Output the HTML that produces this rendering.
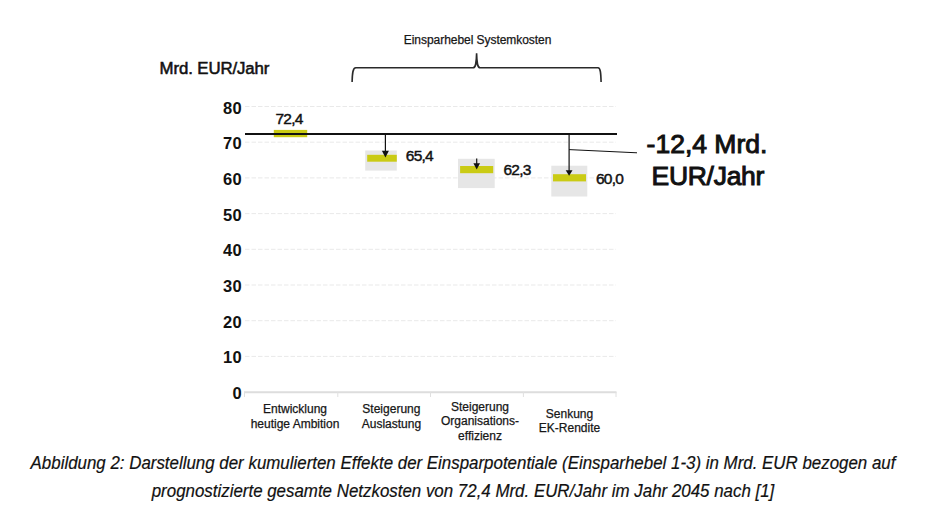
<!DOCTYPE html>
<html>
<head>
<meta charset="utf-8">
<style>
html,body{margin:0;padding:0;background:#fff;}
body{width:946px;height:521px;position:relative;overflow:hidden;font-family:"Liberation Sans",sans-serif;color:#111;}
svg{position:absolute;left:0;top:0;}
.t{position:absolute;white-space:nowrap;line-height:1;}
.yl{position:absolute;font-weight:bold;font-size:16.5px;line-height:16.5px;width:40px;left:202.2px;text-align:right;letter-spacing:0.4px;}
.cat{position:absolute;font-size:12px;line-height:14.5px;width:120px;text-align:center;-webkit-text-stroke:0.25px #222;}
.dl{position:absolute;font-size:15.5px;line-height:15.5px;letter-spacing:-0.75px;-webkit-text-stroke:0.45px #111;}
.cap{position:absolute;font-style:italic;font-size:18px;line-height:18px;width:1000px;left:-37.2px;text-align:center;transform:scaleX(0.9385);transform-origin:500px 0;-webkit-text-stroke:0.2px #111;}
</style>
</head>
<body>
<svg width="946" height="521" viewBox="0 0 946 521">
  <!-- gridlines -->
  <g stroke="#e9e9e9" stroke-width="1" stroke-dasharray="4.5,2">
    <line x1="245" y1="106.5" x2="616" y2="106.5"/>
    <line x1="245" y1="142.2" x2="616" y2="142.2"/>
    <line x1="245" y1="177.9" x2="616" y2="177.9"/>
    <line x1="245" y1="213.6" x2="616" y2="213.6"/>
    <line x1="245" y1="249.3" x2="616" y2="249.3"/>
    <line x1="245" y1="285.0" x2="616" y2="285.0"/>
    <line x1="245" y1="320.7" x2="616" y2="320.7"/>
    <line x1="245" y1="356.4" x2="616" y2="356.4"/>
  </g>
  <!-- axis -->
  <line x1="244" y1="392.2" x2="616.5" y2="392.2" stroke="#dddddd" stroke-width="2"/>
  <g stroke="#e0e0e0" stroke-width="1">
    <line x1="244.5" y1="392" x2="244.5" y2="397"/>
    <line x1="337.8" y1="392" x2="337.8" y2="397"/>
    <line x1="430.5" y1="392" x2="430.5" y2="397"/>
    <line x1="523.4" y1="392" x2="523.4" y2="397"/>
    <line x1="616" y1="392" x2="616" y2="397"/>
  </g>
  <!-- bars -->
  <rect x="273.8" y="129.9" width="33.4" height="7.3" fill="#cacb14"/>
  <rect x="365.2" y="150.5" width="31.6" height="20.1" fill="#e6e6e6"/>
  <rect x="367.2" y="154.8" width="29.6" height="6.9" fill="#cacb14"/>
  <rect x="458" y="158.8" width="36.7" height="29.3" fill="#e6e6e6"/>
  <rect x="460.1" y="166" width="33.1" height="7.2" fill="#cacb14"/>
  <rect x="551.3" y="165.7" width="36" height="30.8" fill="#e6e6e6"/>
  <rect x="553" y="174.2" width="33" height="7.2" fill="#cacb14"/>
  <!-- black reference line -->
  <line x1="245" y1="134.1" x2="617" y2="134.1" stroke="#111" stroke-width="2"/>
  <!-- arrows -->
  <g stroke="#111" stroke-width="1.2">
    <line x1="385.4" y1="134" x2="385.4" y2="152"/>
    <line x1="476.7" y1="158.5" x2="476.7" y2="165"/>
    <line x1="569.1" y1="134" x2="569.1" y2="171"/>
    <line x1="569.1" y1="149.6" x2="637" y2="152.8" stroke-width="1"/>
  </g>
  <g fill="#111">
    <polygon points="381.9,150.8 388.9,150.8 385.4,157.6"/>
    <polygon points="473.4,163.2 480,163.2 476.7,169.6"/>
    <polygon points="565.7,170.2 572.5,170.2 569.1,175.8"/>
  </g>
  <!-- brace -->
  <path d="M352.1,82.1 C352.3,73 352.9,67.7 355.8,67.7 L473,67.7 C475.6,67.7 476.3,64.5 476.6,53.2 C476.9,64.5 477.6,67.7 480.2,67.7 L598,67.7 C600.4,67.7 600.9,73 601.1,82.1" fill="none" stroke="#2a2a2a" stroke-width="1.6"/>
</svg>

<div class="t" style="left:403.8px;top:34px;font-size:12px;letter-spacing:-0.05px;-webkit-text-stroke:0.25px #222;">Einsparhebel Systemkosten</div>
<div class="t" style="left:159.6px;top:60.8px;font-size:16.8px;letter-spacing:-0.1px;-webkit-text-stroke:0.55px #111;">Mrd. EUR/Jahr</div>

<div class="yl" style="top:99.5px;">80</div>
<div class="yl" style="top:135.2px;">70</div>
<div class="yl" style="top:170.9px;">60</div>
<div class="yl" style="top:206.6px;">50</div>
<div class="yl" style="top:242.3px;">40</div>
<div class="yl" style="top:278.0px;">30</div>
<div class="yl" style="top:313.7px;">20</div>
<div class="yl" style="top:349.4px;">10</div>
<div class="yl" style="top:385.1px;">0</div>

<div class="dl" style="left:275.5px;top:110.8px;">72,4</div>
<div class="dl" style="left:405.8px;top:147.9px;">65,4</div>
<div class="dl" style="left:503.5px;top:162.1px;">62,3</div>
<div class="dl" style="left:596px;top:170.5px;">60,0</div>

<div class="t" style="left:607px;top:131.4px;font-size:26.5px;width:200px;text-align:center;-webkit-text-stroke:1px #111;">-12,4 Mrd.</div>
<div class="t" style="left:607.8px;top:162.5px;font-size:26.5px;width:200px;text-align:center;letter-spacing:-0.3px;-webkit-text-stroke:1px #111;">EUR/Jahr</div>

<div class="cat" style="left:235px;top:402px;">Entwicklung<br>heutige Ambition</div>
<div class="cat" style="left:331.4px;top:402px;">Steigerung<br>Auslastung</div>
<div class="cat" style="left:420px;top:399.5px;">Steigerung<br>Organisations-<br>effizienz</div>
<div class="cat" style="left:509.5px;top:406.8px;">Senkung<br>EK-Rendite</div>

<div class="cap" style="top:454.2px;">Abbildung 2: Darstellung der kumulierten Effekte der Einsparpotentiale (Einsparhebel 1-3) in Mrd. EUR bezogen auf</div>
<div class="cap" style="top:481.8px;">prognostizierte gesamte Netzkosten von 72,4 Mrd. EUR/Jahr im Jahr 2045 nach [1]</div>
</body>
</html>
